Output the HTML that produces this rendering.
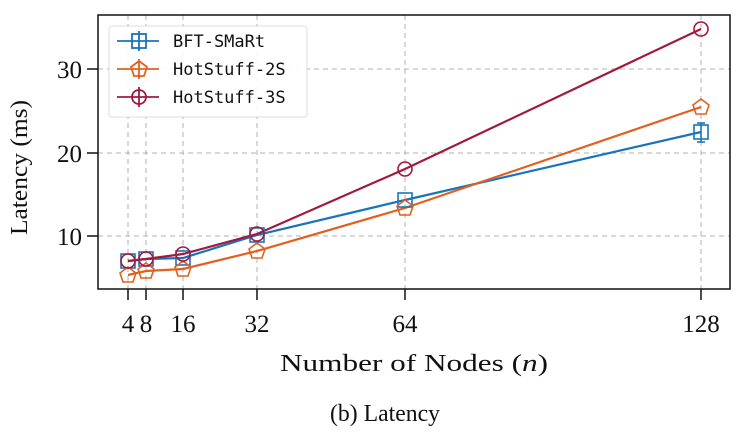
<!DOCTYPE html>
<html><head><meta charset="utf-8"><style>
body{margin:0;background:#fff}
.s{font-family:"Liberation Serif",serif}
.m{font-family:"DejaVu Sans Mono","Liberation Mono",monospace}
</style></head><body>
<svg width="738" height="437" viewBox="0 0 738 437" xmlns="http://www.w3.org/2000/svg">
<rect width="738" height="437" fill="#fff"/>
<g stroke="#b0b0b0" stroke-width="1" stroke-dasharray="5,4" fill="none">
<line x1="128" y1="15" x2="128" y2="289"/><line x1="146" y1="15" x2="146" y2="289"/>
<line x1="183" y1="15" x2="183" y2="289"/><line x1="257" y1="15" x2="257" y2="289"/>
<line x1="405" y1="15" x2="405" y2="289"/><line x1="701" y1="15" x2="701" y2="289"/>
<line x1="98" y1="236" x2="730" y2="236"/><line x1="98" y1="153" x2="730" y2="153"/>
<line x1="98" y1="69" x2="730" y2="69"/>
</g>
<g fill="none" stroke-width="2.2">
<polyline stroke="#1a74bb" points="128,261 146,259 183,258 257,235 405,200 701,132"/>
<polyline stroke="#e2601f" points="128,275 146,271 183,269 257,251 405,208 701,107"/>
<polyline stroke="#a01a3e" points="128,261 146,259 183,254 257,234 405,169 701,29"/>
</g>
<g fill="none" stroke-width="1.6">
<g stroke="#1a74bb">
<rect x="121" y="254" width="14" height="14"/><rect x="139" y="252" width="14" height="14"/>
<rect x="176" y="251" width="14" height="14"/><rect x="250" y="228" width="14" height="14"/>
<rect x="398" y="193" width="14" height="14"/><rect x="694" y="125" width="14" height="14"/>
<line x1="701" y1="123" x2="701" y2="142"/><line x1="697" y1="123" x2="705" y2="123"/><line x1="697" y1="142" x2="705" y2="142"/>
</g>
<g stroke="#e2601f">
<polygon points="128,267 136,273 133,282 123,282 120,273"/>
<polygon points="146,263 154,269 151,278 141,278 138,269"/>
<polygon points="183,261 191,267 188,276 178,276 175,267"/>
<polygon points="257,243 265,249 262,258 252,258 249,249"/>
<polygon points="405,200 413,206 410,215 400,215 397,206"/>
<polygon points="701,99 709,105 706,114 696,114 693,105"/>
</g>
<g stroke="#a01a3e">
<circle cx="128" cy="261" r="7"/><circle cx="146" cy="259" r="7"/>
<circle cx="183" cy="254" r="7"/><circle cx="257" cy="234" r="7"/>
<circle cx="405" cy="169" r="7"/><circle cx="701" cy="29" r="7"/>
</g>
</g>
<rect x="98" y="15" width="632" height="274" fill="none" stroke="#111" stroke-width="1.5"/>
<g stroke="#111" stroke-width="1.5">
<line x1="128" y1="289" x2="128" y2="300"/><line x1="146" y1="289" x2="146" y2="300"/>
<line x1="183" y1="289" x2="183" y2="300"/><line x1="257" y1="289" x2="257" y2="300"/>
<line x1="405" y1="289" x2="405" y2="300"/><line x1="701" y1="289" x2="701" y2="300"/>
<line x1="87" y1="236" x2="98" y2="236"/><line x1="87" y1="153" x2="98" y2="153"/><line x1="87" y1="69" x2="98" y2="69"/>
</g>
<g class="s" font-size="25" fill="#111" text-anchor="middle">
<text x="128" y="332">4</text><text x="146" y="332">8</text><text x="183" y="332">16</text>
<text x="257" y="332">32</text><text x="405" y="332">64</text><text x="701" y="332">128</text>
</g>
<g class="s" font-size="25" fill="#111" text-anchor="end">
<text x="82" y="245">10</text><text x="82" y="162">20</text><text x="82" y="78">30</text>
</g>
<text class="s" x="280" y="371" font-size="24" fill="#111" textLength="268" lengthAdjust="spacingAndGlyphs">Number of Nodes (<tspan font-style="italic">n</tspan>)</text>
<text class="s" x="27" y="235" font-size="24" fill="#111" transform="rotate(-90 27 235)" textLength="135" lengthAdjust="spacingAndGlyphs">Latency (ms)</text>
<text class="s" x="330" y="421" font-size="24" fill="#111" textLength="110" lengthAdjust="spacingAndGlyphs">(b) Latency</text>
<rect x="109" y="26" width="198" height="91" rx="3" fill="#fff" fill-opacity="0.9" stroke="#ddd"/>
<g stroke-width="1.8" fill="none">
<line x1="117" y1="41" x2="159" y2="41" stroke="#1a74bb"/><rect x="132" y="34" width="14" height="14" stroke="#1a74bb"/>
<line x1="139" y1="31" x2="139" y2="51" stroke="#1a74bb"/>
<line x1="117" y1="69" x2="159" y2="69" stroke="#e2601f"/><polygon points="139,61 147,67 144,76 134,76 131,67" stroke="#e2601f"/>
<line x1="139" y1="59" x2="139" y2="79" stroke="#e2601f"/>
<line x1="117" y1="97" x2="159" y2="97" stroke="#a01a3e"/><circle cx="139" cy="97" r="7" stroke="#a01a3e"/>
<line x1="139" y1="87" x2="139" y2="107" stroke="#a01a3e"/>
</g>
<g font-size="17" fill="#111">
<text class="m" x="173" y="47">BFT-SMaRt</text><text class="m" x="173" y="75">HotStuff-2S</text><text class="m" x="173" y="103">HotStuff-3S</text>
</g>
</svg>
</body></html>
